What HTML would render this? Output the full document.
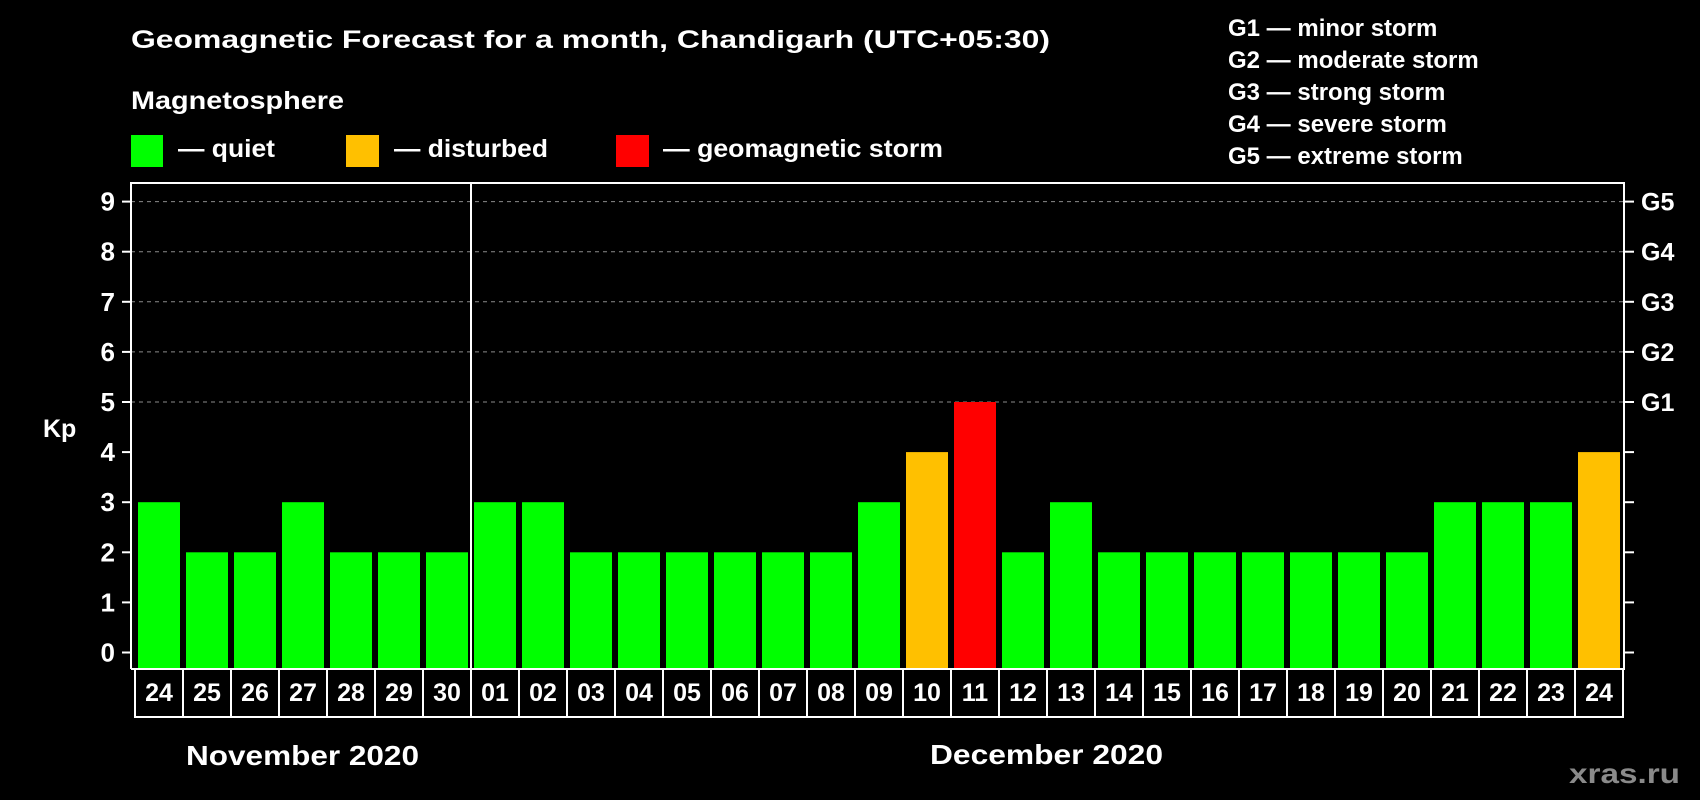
<!DOCTYPE html>
<html><head><meta charset="utf-8"><style>
html,body{margin:0;padding:0;background:#000;width:1700px;height:800px;overflow:hidden}
svg{display:block}
text{font-family:"Liberation Sans",Arial,sans-serif;font-weight:bold;fill:#fff}
</style></head><body>
<svg id="chart" width="1700" height="800" viewBox="0 0 1700 800" xmlns="http://www.w3.org/2000/svg">
<rect width="1700" height="800" fill="#000"/>
<text x="131" y="48" font-size="25" textLength="919" lengthAdjust="spacingAndGlyphs">Geomagnetic Forecast for a month, Chandigarh (UTC+05:30)</text>
<text x="131" y="109" font-size="25" textLength="213" lengthAdjust="spacingAndGlyphs">Magnetosphere</text>
<g><rect x="131" y="135" width="32" height="32" fill="#00ff00"/><text x="178" y="157" font-size="25" textLength="97" lengthAdjust="spacingAndGlyphs">— quiet</text></g>
<g><rect x="346" y="135" width="33" height="32" fill="#ffc000"/><text x="394" y="157" font-size="25" textLength="154" lengthAdjust="spacingAndGlyphs">— disturbed</text></g>
<g><rect x="616" y="135" width="33" height="32" fill="#ff0000"/><text x="663" y="157" font-size="25" textLength="280" lengthAdjust="spacingAndGlyphs">— geomagnetic storm</text></g>
<g font-size="24">
<text x="1228" y="36">G1 — minor storm</text>
<text x="1228" y="68">G2 — moderate storm</text>
<text x="1228" y="100">G3 — strong storm</text>
<text x="1228" y="132">G4 — severe storm</text>
<text x="1228" y="164">G5 — extreme storm</text>
</g>
<text x="43" y="437" font-size="25">Kp</text>
<g id="grid"></g>
<g id="bars"></g>
<g id="axes"></g>
<text x="186" y="765" font-size="28" textLength="233" lengthAdjust="spacingAndGlyphs">November 2020</text>
<text x="930" y="764" font-size="28" textLength="233" lengthAdjust="spacingAndGlyphs">December 2020</text>
<text x="1569" y="783" font-size="28" style="fill:#8a8a8a" textLength="111" lengthAdjust="spacingAndGlyphs">xras.ru</text>
</svg>
<script>
const days = ["24","25","26","27","28","29","30","01","02","03","04","05","06","07","08","09","10","11","12","13","14","15","16","17","18","19","20","21","22","23","24"];
const kpValues = [3,2,2,3,2,2,2,3,3,2,2,2,2,2,2,3,4,5,2,3,2,2,2,2,2,2,2,3,3,3,4];
const yTicks = [0,1,2,3,4,5,6,7,8,9];
const gLabels = ["G1","G2","G3","G4","G5"];
const gLevels = [5,6,7,8,9];
const monthBreakIndex = 7;

const NS = "http://www.w3.org/2000/svg";
const plotL = 131, plotR = 1624, plotT = 183, plotB = 669;
const slot0 = 135, pitch = 48, barW = 42;
const y0 = 652.5, unit = 50.1;
function yScale(v){ return y0 - v*unit; }
function xSlot(i){ return slot0 + i*pitch; }
function mk(tag, attrs, parent){ const e=document.createElementNS(NS,tag); for(const k in attrs) e.setAttribute(k,attrs[k]); parent.appendChild(e); return e; }
function colorFor(v){ return v>=5 ? "#ff0000" : (v>=4 ? "#ffc000" : "#00ff00"); }

const grid = document.getElementById("grid");
const bars = document.getElementById("bars");
const axes = document.getElementById("axes");

gLevels.forEach((lv, i) => {
  const gl = mk("line",{x1:plotL,x2:plotR,y1:yScale(lv),y2:yScale(lv),stroke:"#8a8a8a","stroke-width":1,"stroke-dasharray":"4,4"},grid);
  
  
  const t = mk("text",{x:1641,y:yScale(lv)+9,"font-size":25},axes);
  t.textContent = gLabels[i];
  
  
});

kpValues.forEach((v, i) => {
  const r = mk("rect",{x:xSlot(i)+3,y:yScale(v),width:barW,height:plotB-yScale(v),fill:colorFor(v)},bars);
  
  
});

// plot frame
mk("path",{d:`M${plotL} ${plotB}V${plotT}H${plotR}V${plotB}H${plotL}`,fill:"none",stroke:"#fff","stroke-width":2},axes);
// month separator
const sep = mk("line",{x1:xSlot(monthBreakIndex),x2:xSlot(monthBreakIndex),y1:plotT,y2:717,stroke:"#fff","stroke-width":2},axes);



yTicks.forEach(v => {
  const y = yScale(v);
  mk("line",{x1:122,x2:plotL,y1:y,y2:y,stroke:"#fff","stroke-width":2},axes);
  mk("line",{x1:plotR,x2:1634,y1:y,y2:y,stroke:"#fff","stroke-width":2},axes);
  const t = mk("text",{x:115,y:y+9,"font-size":26,"text-anchor":"end"},axes);
  t.textContent = v;
  
  
});

// date boxes
mk("rect",{x:slot0,y:plotB,width:pitch*days.length,height:48,fill:"none",stroke:"#fff","stroke-width":2},axes);
days.forEach((d, i) => {
  if (i>0) mk("line",{x1:xSlot(i),x2:xSlot(i),y1:plotB,y2:717,stroke:"#fff","stroke-width":2},axes);
  const t = mk("text",{x:xSlot(i)+pitch/2,y:701,"font-size":25,"text-anchor":"middle"},axes);
  t.textContent = d;
  
  
});
</script>
</body></html>
